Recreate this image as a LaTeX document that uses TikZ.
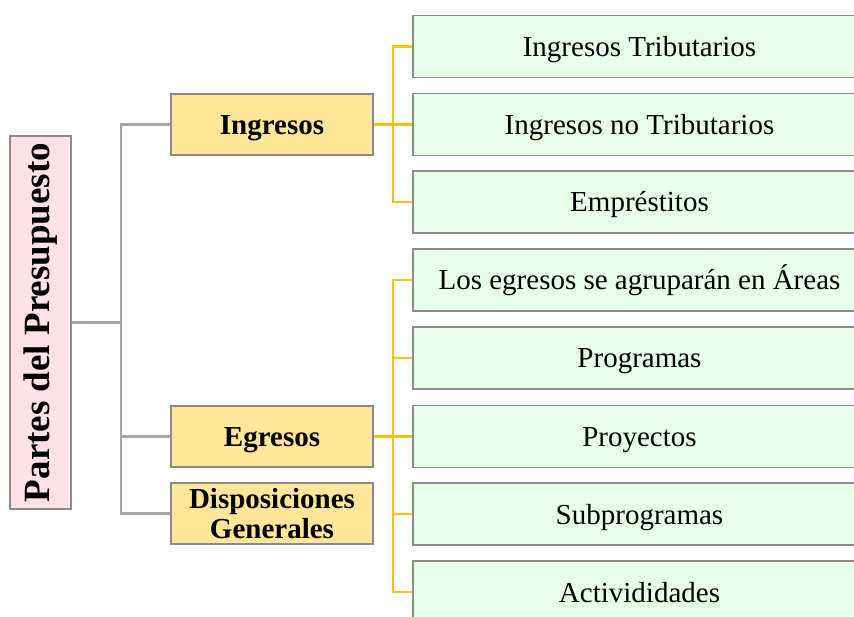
\documentclass[tikz,border=0pt]{standalone}
\usepackage{fontspec}
\setmainfont{Liberation Serif}
\definecolor{rootpink}{RGB}{255,225,232}
\definecolor{catyellow}{RGB}{255,230,153}
\definecolor{leafgreen}{RGB}{232,255,232}
\definecolor{boxgray}{RGB}{140,140,140}
\definecolor{conngray}{RGB}{166,166,166}
\definecolor{connorange}{RGB}{255,192,0}
\begin{document}
\begin{tikzpicture}[x=1pt,y=-1pt,
  box/.style={draw=boxgray, line width=1.5pt, inner sep=0pt, align=center},
  rootbox/.style={box, fill=rootpink, minimum width=373pt, minimum height=61pt, rotate=90,
     font=\fontsize{37}{38}\selectfont\bfseries},
  catbase/.style={box, fill=catyellow, minimum width=202pt, minimum height=61pt,
     font=\fontsize{29}{30}\selectfont\bfseries},
  catbox/.style={catbase, text height=20pt, text depth=0pt},
  leafbox/.style={box, fill=leafgreen, minimum width=453pt, minimum height=62pt,
     font=\fontsize{29}{30}\selectfont, text height=20pt, text depth=0pt},
  gconn/.style={draw=conngray, line width=2.5pt},
  oconn/.style={draw=connorange, line width=2.5pt}]
\useasboundingbox (0,0) rectangle (854,617);

\node[rootbox] (root) at (40.5,322.5) {Partes del Presupuesto};

\node[catbox] (ing) at (272,124.5) {Ingresos};
\node[catbox] (egr) at (272,436.5) {Egresos};
\node[catbase] (dis) at (272,513.5) {Disposiciones\\Generales};

\node[leafbox] (it1) at (639.5,46.5) {Ingresos Tributarios};
\node[leafbox] (it2) at (639.5,124.5) {Ingresos no Tributarios};
\node[leafbox] (it3) at (639.5,202) {Empréstitos};

\node[leafbox] (e1) at (639.5,280) {Los egresos se agruparán en Áreas};
\node[leafbox] (e2) at (639.5,358) {Programas};
\node[leafbox] (e3) at (639.5,436.5) {Proyectos};
\node[leafbox] (e4) at (639.5,514) {Subprogramas};
\node[leafbox] (e5) at (639.5,592) {Activididades};

% gray connectors
\coordinate (gt) at (121,0);
\draw[gconn] (root.south) -- (root.south -| gt);
\draw[gconn] (ing.west) -- (ing.west -| gt) -- (dis.west -| gt) -- (dis.west);
\draw[gconn] (egr.west) -- (egr.west -| gt);

% orange connectors
\coordinate (ot) at (393,0);
\draw[oconn] (it1.west) -- (it1.west -| ot) -- (it3.west -| ot) -- (it3.west);
\draw[oconn] (ing.east) -- (it2.west);
\draw[oconn] (e1.west) -- (e1.west -| ot) -- (e5.west -| ot) -- (e5.west);
\draw[oconn] (egr.east) -- (e3.west);
\draw[oconn] (e2.west) -- (e2.west -| ot);
\draw[oconn] (e4.west) -- (e4.west -| ot);
\end{tikzpicture}
\end{document}
